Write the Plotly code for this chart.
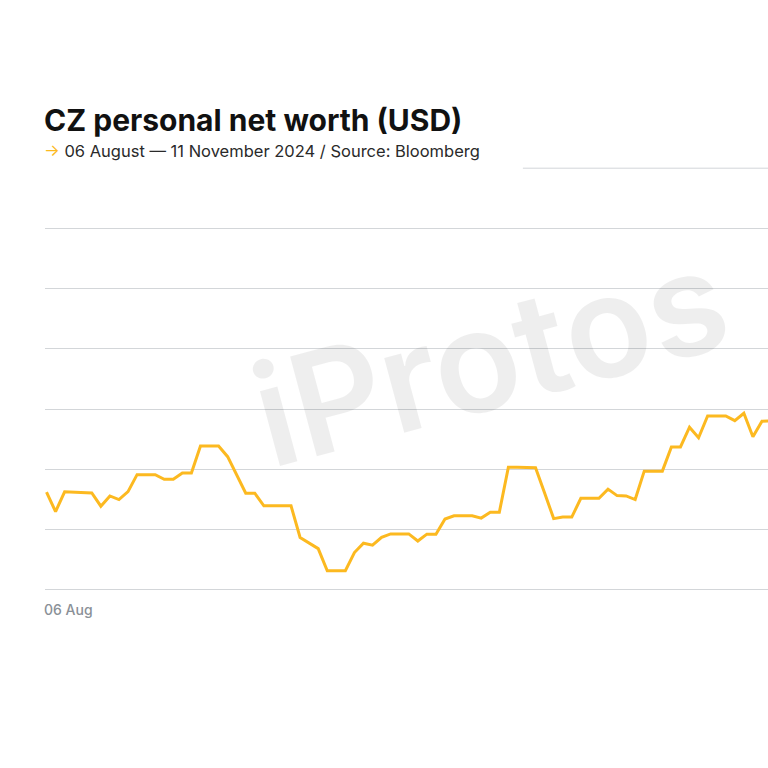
import pandas as pd
import plotly.graph_objects as go

# CZ net worth, daily from 06 Aug 2024 (USD bn; the
# reference image is cropped on the right, so only the visible part is here)
start_date = "2024-08-06"
net_worth = [
    38.10, 36.49, 38.13, 38.10, 38.08, 38.04, 36.94, 37.79, 37.49, 38.15,
    39.56, 39.56, 39.56, 39.18, 39.18, 39.70, 39.70, 41.94, 41.94, 41.94,
    41.05, 39.54, 38.02, 38.02, 36.97, 36.97, 36.97, 36.97, 34.34, 33.90,
    33.42, 31.58, 31.58, 31.58, 33.09, 33.87, 33.71, 34.35, 34.64, 34.64,
    34.64, 34.05, 34.62, 34.62, 35.87, 36.15, 36.15, 36.15, 35.95, 36.43,
    36.44, 40.17, 40.17, 40.17, 40.14, 38.04, 35.91, 36.04, 36.04, 37.59,
    37.59, 37.59, 38.36, 37.82, 37.79, 37.49, 39.85, 39.85, 39.85, 41.86,
    41.86, 43.50, 42.62, 44.43, 44.43, 44.43, 44.04, 44.65, 42.71, 43.99,
    44.01,
]
dates = pd.date_range(start_date, periods=len(net_worth), freq="D")

grid_values = [30, 35, 40, 45, 50, 55, 60]
top_grid = 65
x_range = ["2024-08-05 20:00", "2024-10-24 16:00"]
y_range = [29.9, 65.1]

title = "CZ personal net worth (USD)"
subtitle = "06 August — 11 November 2024 / Source: Bloomberg"
first_tick = "06 Aug"

YELLOW = "#FCB920"
GRID = "#D3D6D9"

fig = go.Figure()

fig.add_trace(
    go.Scatter(
        x=dates,
        y=net_worth,
        mode="lines",
        line=dict(color=YELLOW, width=3),
        hoverinfo="skip",
        showlegend=False,
    )
)

# top grid line only runs on the right part (title block sits over the rest)
fig.add_shape(
    type="line", xref="paper", yref="y",
    x0=0.661, x1=1, y0=top_grid, y1=top_grid,
    line=dict(color=GRID, width=1), layer="below",
)

# watermark
fig.add_annotation(
    text="iProtos", xref="paper", yref="paper", x=0.615, y=0.555,
    showarrow=False, textangle=-15,
    font=dict(family="Inter", size=142, color="rgba(0,0,0,0.065)", weight=600),
)

fig.add_annotation(
    text=f"<b>{title}</b>", xref="paper", yref="paper", x=0.0, y=1.0,
    xanchor="left", yanchor="bottom", yshift=27, xshift=-3, showarrow=False,
    font=dict(family="Inter", size=30, color="#111111"),
)
fig.add_annotation(
    text=f"<span style='color:{YELLOW}'>→</span> {subtitle}",
    xref="paper", yref="paper", x=0.0, y=1.0,
    xanchor="left", yanchor="bottom", yshift=4, xshift=-3, showarrow=False,
    font=dict(family="Inter", size=16.5, color="#2a2a2a"),
)
fig.add_annotation(
    text=first_tick, xref="paper", yref="paper", x=0.0, y=0.0,
    xanchor="left", yanchor="top", yshift=-8, xshift=-3, showarrow=False,
    font=dict(family="Inter", size=14, color="#8A9097", weight=500),
)

fig.update_xaxes(range=x_range, showgrid=False, showticklabels=False,
                 zeroline=False, showline=False, fixedrange=True)
fig.update_yaxes(range=y_range, tickvals=grid_values, showticklabels=False,
                 showgrid=True, gridcolor=GRID, gridwidth=1,
                 zeroline=False, showline=False, fixedrange=True)

fig.update_layout(
    width=768, height=768,
    margin=dict(l=45, r=0, t=167, b=177),
    paper_bgcolor="white", plot_bgcolor="white",
    font=dict(family="Inter"),
)

# drop the page's default 8px body margin so the figure fills the window
fix_page = (
    "document.body.style.margin='0';"
    "document.body.style.overflow='hidden';"
    "Plotly.Plots.resize(document.getElementById('{plot_id}'));"
)

fig.write_html("out.html", config={"displayModeBar": False},
               post_script=fix_page)
